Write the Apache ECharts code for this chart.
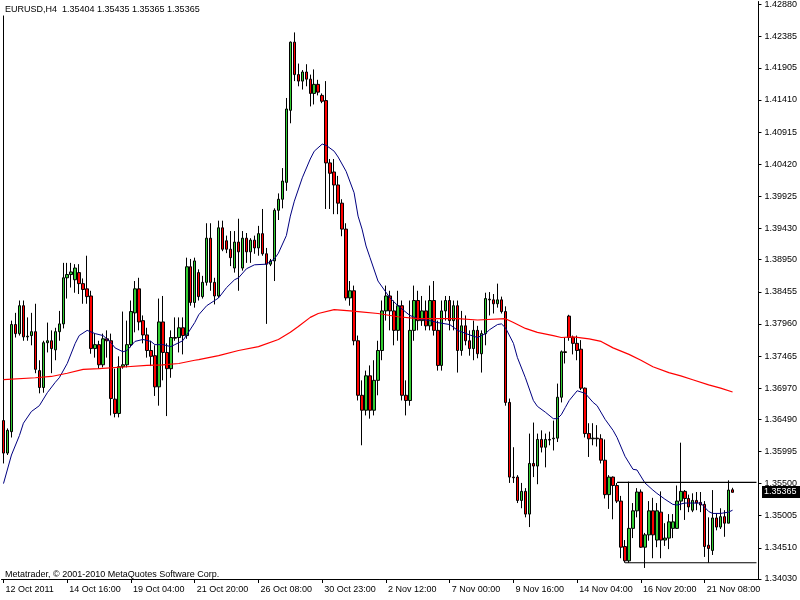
<!DOCTYPE html>
<html><head><meta charset="utf-8">
<script src="https://cdn.jsdelivr.net/npm/echarts@6/dist/echarts.min.js"></script>
<style>html,body{margin:0;padding:0;background:#fff}#c{width:800px;height:600px}</style>
</head><body><div id="c"></div>
<script>
// ---- data ----
const symbolTitle = 'EURUSD,H4  1.35404 1.35435 1.35365 1.35365';
const copyright = 'Metatrader, \u00a9 2001-2010 MetaQuotes Software Corp.';
const tickLabels = ['12 Oct 2011','14 Oct 16:00','19 Oct 04:00','21 Oct 20:00','26 Oct 08:00','30 Oct 23:00','2 Nov 12:00','7 Nov 00:00','9 Nov 16:00','14 Nov 04:00','16 Nov 20:00','21 Nov 08:00'];
const barsPerTick = 16;
const totalSlots = 190;
const yTicks = [1.42880,1.42385,1.41905,1.41410,1.40915,1.40420,1.39925,1.39430,1.38950,1.38455,1.37960,1.37465,1.36970,1.36490,1.35995,1.35500,1.35005,1.34510,1.34030];
const lastPrice = 1.35365;

const opens = [1.3647,1.3597,1.3630,1.3795,1.3781,1.3824,1.3776,1.3778,1.3784,1.3724,1.3698,1.3767,1.3770,1.3756,1.3784,1.3796,1.3867,1.3872,1.3864,1.3875,
1.3858,1.3850,1.3839,1.3758,1.3764,1.3733,1.3773,1.3770,1.3680,1.3658,1.3730,1.3733,1.3764,1.3813,1.3850,1.3801,1.3779,1.3755,1.3747,1.3699,
1.3799,1.3752,1.3727,1.3775,1.3775,1.3790,1.3778,1.3884,1.3829,1.3875,1.3838,1.3860,1.3928,1.3860,1.3839,1.3944,1.3924,1.3911,1.3882,1.3922,
1.3882,1.3928,1.3907,1.3925,1.3913,1.3935,1.3904,1.3888,1.3893,1.3971,1.3988,1.4014,1.4125,1.4230,1.4180,1.4170,1.4184,1.4173,1.4151,1.4165,
1.4148,1.4140,1.4044,1.4030,1.4010,1.3982,1.3942,1.3836,1.3847,1.3770,1.3686,1.3663,1.3716,1.3663,1.3709,1.3755,1.3816,1.3839,1.3816,1.3786,
1.3824,1.3686,1.3678,1.3786,1.3832,1.3801,1.3816,1.3793,1.3832,1.3786,1.3732,1.3816,1.3832,1.3801,1.3824,1.3755,1.3793,1.3770,1.3758,1.3786,
1.3750,1.3781,1.3834,1.3833,1.3827,1.3833,1.3815,1.3675,1.3560,1.3560,1.3524,1.3538,1.3503,1.3581,1.3577,1.3618,1.3606,1.3618,1.3619,1.3620,
1.3683,1.3753,1.3808,1.3775,1.3766,1.3757,1.3697,1.3627,1.3619,1.3620,1.3619,1.3586,1.3533,1.3560,1.3547,1.3523,1.3453,1.3431,1.3481,1.3508,
1.3537,1.3452,1.3471,1.3508,1.3463,1.3506,1.3463,1.3466,1.3481,1.3481,1.3523,1.3538,1.3527,1.3509,1.3524,1.3521,1.3518,1.3455,1.3447,1.3497,
1.3483,1.3499,1.3489,1.35404];
const closes = [1.3597,1.3632,1.3795,1.3781,1.3824,1.3776,1.3777,1.3784,1.3726,1.3698,1.3767,1.3770,1.3758,1.3784,1.3796,1.3867,1.3872,1.3876,1.3882,1.3858,
1.3849,1.3838,1.3758,1.3764,1.3733,1.3773,1.3770,1.3681,1.3658,1.3730,1.3733,1.3764,1.3815,1.3850,1.3799,1.3779,1.3755,1.3746,1.3699,1.3799,
1.3752,1.3727,1.3775,1.3774,1.3790,1.3778,1.3884,1.3829,1.3893,1.3838,1.3860,1.3928,1.3860,1.3839,1.3944,1.3911,1.3911,1.3898,1.3922,1.3907,
1.3928,1.3907,1.3925,1.3913,1.3935,1.3904,1.3888,1.3893,1.3971,1.3988,1.4016,1.4127,1.4230,1.4180,1.4170,1.4184,1.4173,1.4151,1.4165,1.4153,
1.4139,1.4044,1.4028,1.4010,1.3982,1.3942,1.3836,1.3847,1.3770,1.3686,1.3663,1.3716,1.3663,1.3709,1.3755,1.3816,1.3839,1.3816,1.3786,1.3824,
1.3686,1.3678,1.3786,1.3832,1.3801,1.3816,1.3793,1.3832,1.3786,1.3732,1.3816,1.3832,1.3801,1.3824,1.3755,1.3793,1.3770,1.3758,1.3786,1.3750,
1.3781,1.3835,1.3833,1.3827,1.3833,1.3815,1.3675,1.3560,1.3559,1.3524,1.3538,1.3503,1.3581,1.3577,1.3618,1.3606,1.3618,1.3617,1.3620,1.3683,
1.3753,1.3752,1.3775,1.3766,1.3755,1.3697,1.3627,1.3619,1.3620,1.3619,1.3586,1.3533,1.3560,1.3547,1.3523,1.3452,1.3431,1.3481,1.3508,1.3537,
1.3452,1.3471,1.3508,1.3471,1.3508,1.3463,1.3466,1.3491,1.3491,1.3523,1.3538,1.3527,1.3514,1.3524,1.3520,1.3517,1.3453,1.3450,1.3497,1.3483,
1.3499,1.3489,1.3540,1.35365];
const lows = [1.3581,1.3594,1.3621,1.3775,1.3778,1.3770,1.3770,1.3763,1.3720,1.3689,1.3690,1.3752,1.3720,1.3740,1.3770,1.3789,1.3835,1.3852,1.3844,1.3842,
1.3827,1.3827,1.3750,1.3744,1.3727,1.3729,1.3744,1.3655,1.3652,1.3652,1.3727,1.3729,1.3760,1.3783,1.3786,1.3766,1.3744,1.3731,1.3685,1.3670,
1.3709,1.3654,1.3713,1.3770,1.3752,1.3749,1.3773,1.3824,1.3821,1.3832,1.3835,1.3855,1.3847,1.3826,1.3836,1.3908,1.3905,1.3885,1.3875,1.3847,
1.3878,1.3890,1.3890,1.3904,1.3901,1.3901,1.3796,1.3885,1.3862,1.3956,1.3974,1.4001,1.4105,1.4170,1.4162,1.4157,1.4162,1.4131,1.4134,1.4148,
1.4136,1.3973,1.3973,1.3965,1.3965,1.3931,1.3832,1.3824,1.3763,1.3678,1.3609,1.3655,1.3650,1.3655,1.3686,1.3740,1.3801,1.3786,1.3763,1.3770,
1.3678,1.3655,1.3670,1.3770,1.3786,1.3793,1.3786,1.3786,1.3778,1.3724,1.3724,1.3801,1.3786,1.3786,1.3721,1.3747,1.3763,1.3747,1.3740,1.3743,
1.3721,1.3763,1.3809,1.3812,1.3821,1.3812,1.3670,1.3551,1.3551,1.3520,1.3512,1.3498,1.3483,1.3560,1.3549,1.3598,1.3575,1.3609,1.3601,1.3614,
1.3675,1.3735,1.3770,1.3749,1.3740,1.3694,1.3621,1.3591,1.3609,1.3607,1.3581,1.3527,1.3511,1.3495,1.3520,1.3435,1.3428,1.3428,1.3466,1.3498,
1.3451,1.3420,1.3462,1.3435,1.3452,1.3435,1.3454,1.3449,1.3466,1.3480,1.3509,1.3494,1.3506,1.3506,1.3509,1.3506,1.3437,1.3428,1.3440,1.3478,
1.3480,1.3468,1.3489,1.35365];
const highs = [1.4271,1.3635,1.3801,1.3813,1.3832,1.3832,1.3806,1.3813,1.3827,1.3740,1.3770,1.3798,1.3786,1.3790,1.3816,1.3890,1.3890,1.3890,1.3888,1.3888,
1.3866,1.3901,1.3847,1.3781,1.3770,1.3781,1.3786,1.3781,1.3727,1.3746,1.3815,1.3801,1.3832,1.3862,1.3867,1.3809,1.3790,1.3770,1.3763,1.3835,
1.3839,1.3766,1.3786,1.3806,1.3806,1.3806,1.3898,1.3896,1.3898,1.3880,1.3870,1.3951,1.3951,1.3867,1.3955,1.3955,1.3932,1.3939,1.3939,1.3958,
1.3939,1.3936,1.3928,1.3932,1.3947,1.3973,1.3913,1.3896,1.3974,1.3997,1.4036,1.4144,1.4231,1.4245,1.4197,1.4187,1.4196,1.4180,1.4188,1.4172,
1.4151,1.4170,1.4050,1.4050,1.4024,1.3988,1.3951,1.3862,1.3855,1.3778,1.3709,1.3724,1.3732,1.3740,1.3770,1.3832,1.3855,1.3847,1.3832,1.3847,
1.3832,1.3709,1.3832,1.3855,1.3847,1.3839,1.3832,1.3855,1.3862,1.3801,1.3832,1.3839,1.3839,1.3832,1.3832,1.3816,1.3809,1.3786,1.3801,1.3793,
1.3786,1.3844,1.3845,1.3842,1.3858,1.3838,1.3823,1.3681,1.3606,1.3563,1.3551,1.3543,1.3627,1.3644,1.3627,1.3632,1.3627,1.3630,1.3647,1.3704,
1.3755,1.3775,1.3810,1.3778,1.3778,1.3771,1.3698,1.3643,1.3643,1.3640,1.3626,1.3618,1.3563,1.3561,1.3551,1.3531,1.3463,1.3553,1.3520,1.3543,
1.3541,1.3474,1.3523,1.3528,1.3520,1.3538,1.3489,1.3503,1.3503,1.3547,1.3613,1.3540,1.3533,1.3535,1.3537,1.3537,1.3523,1.3498,1.3540,1.3504,
1.3512,1.3509,1.3555,1.35435];

// moving averages: [bar index, price]
const maBlue = [[0,1.3550],[2,1.3594],[4,1.3624],[5,1.3643],[7,1.3661],[9,1.3670],[11,1.3690],[13,1.3706],[14,1.3713],[16,1.3735],[18,1.3766],[19,1.3778],[21,1.3786],[23,1.3781],[25,1.3778],[27,1.3767],[28,1.3759],[30,1.3753],[31,1.3755],[33,1.3769],[35,1.3772],[37,1.3769],[38,1.3764],[40,1.3764],[42,1.3761],[43,1.3764],[45,1.3770],[46,1.3779],[48,1.3798],[49,1.3810],[51,1.3824],[53,1.3832],[54,1.3836],[56,1.3852],[58,1.3864],[59,1.3867],[61,1.3881],[63,1.3887],[66,1.3888],[68,1.3896],[69,1.3905],[71,1.3932],[72,1.3962],[73,1.3985],[75,1.4021],[77,1.4050],[78,1.4062],[80,1.4073],[81,1.4071],[83,1.4062],[84,1.4053],[86,1.4031],[88,1.3998],[89,1.3962],[90,1.3942],[91,1.3916],[92,1.3898],[94,1.3862],[97,1.3836],[99,1.3824],[102,1.3809],[104,1.3804],[107,1.3801],[109,1.3798],[112,1.3795],[114,1.3786],[117,1.3779],[119,1.3775],[121,1.3781],[122,1.3787],[124,1.3795],[125,1.3796],[126,1.3790],[128,1.3766],[129,1.3744],[131,1.3713],[133,1.3678],[134,1.3669],[136,1.3660],[138,1.3650],[139,1.3650],[140,1.3656],[141,1.3667],[142,1.3678],[144,1.3693],[146,1.3689],[148,1.3675],[149,1.3670],[151,1.3649],[153,1.3632],[154,1.3621],[156,1.3592],[158,1.3572],[159,1.3571],[161,1.3551],[163,1.3540],[164,1.3535],[166,1.3526],[168,1.3518],[169,1.3517],[171,1.3520],[173,1.3520],[175,1.3520],[177,1.3507],[178,1.3504],[180,1.3504],[182,1.3506],[183,1.3509]];
const maRed = [[0,1.3710],[8,1.3713],[12,1.3715],[16,1.3720],[20,1.3726],[24,1.3727],[31,1.3730],[36,1.3732],[40,1.3733],[44,1.3735],[48,1.3740],[49,1.3741],[54,1.3747],[59,1.3755],[64,1.3761],[69,1.3772],[72,1.3783],[74,1.3792],[77,1.3806],[79,1.3812],[83,1.3818],[87,1.3816],[89,1.3815],[94,1.3812],[99,1.3807],[104,1.3804],[109,1.3804],[114,1.3804],[119,1.3802],[126,1.3804],[128,1.3798],[131,1.3789],[134,1.3783],[138,1.3778],[140,1.3775],[143,1.3776],[147,1.3773],[150,1.3769],[153,1.3759],[157,1.3749],[160,1.3740],[163,1.3730],[167,1.3721],[170,1.3716],[173,1.3710],[177,1.3702],[180,1.3697],[183,1.3691]];

// horizontal levels drawn on the chart
const levelTop = {price: 1.3552, fromBar: 154};
const levelBottom = {price: 1.3428, fromBar: 156};

// ---- build ----
const cats = [];
for (let i = 0; i < totalSlots; i++) {
  const k = i / barsPerTick;
  cats.push(i % barsPerTick === 0 && k < tickLabels.length ? tickLabels[k] : '');
}
const candles = opens.map((o, i) => [o, closes[i], lows[i], highs[i]]);
const showTick = (i) => cats[i] !== '';
const FONT = '"Liberation Sans", Arial, sans-serif';
const lastSlot = totalSlots - 1;

const chart = echarts.init(document.getElementById('c'), null, {renderer: 'canvas'});
chart.setOption({
  animation: false,
  backgroundColor: '#ffffff',
  grid: {left: 1.5, right: 39, top: 0, height: 579, containLabel: false},
  xAxis: {
    type: 'category', data: cats, boundaryGap: true,
    axisLine: {show: true, lineStyle: {color: '#000', width: 1}},
    axisTick: {show: true, alignWithLabel: true, interval: showTick, length: 4, lineStyle: {color: '#000'}},
    axisLabel: {show: true, interval: showTick, align: 'left', margin: 6, padding: [0,0,0,2], color: '#000', fontSize: 9, fontFamily: FONT},
    splitLine: {show: false}
  },
  yAxis: {
    type: 'value', position: 'right', min: 1.3403, max: 1.42926,
    axisLine: {show: true, lineStyle: {color: '#000', width: 1}},
    axisTick: {show: true, length: 3, customValues: yTicks, lineStyle: {color: '#000'}},
    axisLabel: {show: true, customValues: yTicks, margin: 6, color: '#000', fontSize: 9, fontFamily: FONT, formatter: v => v.toFixed(5)},
    splitLine: {show: false}
  },
  series: [
    {
      type: 'candlestick', data: candles, barWidth: 3,
      itemStyle: {color: '#32cd32', color0: '#ff0000', borderColor: '#000', borderColor0: '#000', borderWidth: 1},
      emphasis: {disabled: true}, z: 2
    },
    {type: 'line', data: maBlue, showSymbol: false, symbol: 'none', lineStyle: {color: '#000080', width: 1}, z: 3, silent: true},
    {type: 'line', data: maRed, showSymbol: false, symbol: 'none', lineStyle: {color: '#ff0000', width: 1.2}, z: 3, silent: true},
    {type: 'line', data: [[levelTop.fromBar, levelTop.price], [lastSlot, levelTop.price]], showSymbol: false, symbol: 'none', lineStyle: {color: '#000', width: 1.2}, z: 4, silent: true},
    {type: 'line', data: [[levelBottom.fromBar, levelBottom.price], [lastSlot, levelBottom.price]], showSymbol: false, symbol: 'none', lineStyle: {color: '#000', width: 1.2}, z: 4, silent: true}
  ]
});

// current price box on the price scale, positioned through the axis scale
const yPx = chart.convertToPixel({yAxisIndex: 0}, lastPrice);
chart.setOption({
  graphic: [
    {type: 'text', left: 5, top: 5, style: {text: symbolTitle, fill: '#000', font: '9px ' + FONT}},
    {type: 'text', left: 5, top: 570, style: {text: copyright, fill: '#000', font: '9px ' + FONT}},
    {type: 'rect', shape: {x: 762, y: Math.round(yPx) - 6, width: 38, height: 12}, style: {fill: '#000'}, silent: true},
    {type: 'text', x: 764, y: Math.round(yPx), style: {text: lastPrice.toFixed(5), fill: '#fff', font: '9px ' + FONT, textVerticalAlign: 'middle'}, silent: true}
  ]
});
</script></body></html>
